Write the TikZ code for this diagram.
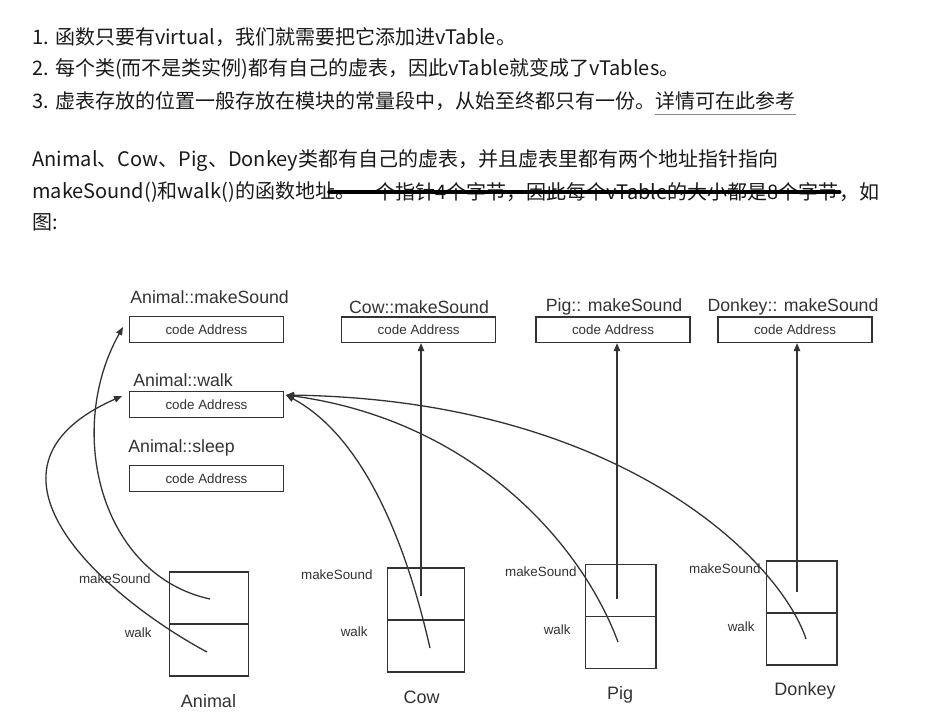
\documentclass[tikz,border=0pt]{standalone}
\usepackage{fontspec}
\usepackage{tikz}
\usetikzlibrary{arrows.meta,positioning}
\newfontfamily\cjkfont{Noto Sans CJK SC}
\newfontfamily\figfont{Liberation Sans}
\definecolor{txtBlack}{HTML}{1A1A1A}
\definecolor{figGray}{HTML}{333333}
\definecolor{linkGray}{HTML}{8A8A8A}

\begin{document}
\begin{tikzpicture}[x=0.5pt, y=-0.5pt, >={Triangle[length=4pt,width=3.2pt]},
  para/.style={anchor=west, inner sep=0pt, text=txtBlack, font=\cjkfont\fontsize{10}{12}\selectfont},
  slot/.style={draw=figGray, line width=0.7pt, minimum width=77pt, minimum height=12.75pt, inner sep=0pt, font=\figfont\fontsize{6.7}{8}\selectfont, text=figGray},
  cell/.style={draw=figGray, line width=0.7pt, minimum height=26pt, inner sep=0pt, outer sep=0pt},
  fname/.style={inner sep=0pt, font=\figfont\fontsize{8.85}{10}\selectfont, text=figGray},
  fieldlbl/.style={inner sep=0pt, anchor=east, font=\figfont\fontsize{6.7}{8}\selectfont, text=figGray},
  cls/.style={inner sep=0pt, font=\figfont\fontsize{9}{11}\selectfont, text=figGray},
  ptr/.style={figGray, line width=0.65pt}]
\useasboundingbox[fill=white] (0,0) rectangle (951,725);

% text above the figure
\node[para] (l1) at (32,37) {1. 函数只要有virtual，我们就需要把它添加进vTable。};
\node[para] (l2) at (32,69) {2. 每个类(而不是类实例)都有自己的虚表，因此vTable就变成了vTables。};
\node[para] (l3) at (32,101) {3. 虚表存放的位置一般存放在模块的常量段中，从始至终都只有一份。};
\node[para, right=0pt of l3] (ref) {详情可在此参考};
\draw[linkGray, line width=0.6pt] ([yshift=-2pt]ref.south west) -- ([yshift=-2pt]ref.south east);
\node[para] (l4) at (32,161) {Animal、Cow、Pig、Donkey类都有自己的虚表，并且虚表里都有两个地址指针指向};
\node[para] (l5) at (32,192) {makeSound()和walk()的函数地址。};
\node[para, right=0pt of l5] (del) {一个指针4个字节，因此每个vTable的大小都是8个字节};
\node[para, right=0pt of del] (l5b) {，如};
\node[para] (l6) at (32,222) {图:};
\draw[black, line width=2.3pt, line cap=round] ([xshift=-13pt]del.west) -- (del.east);

% function slots
\node[fname, anchor=west] at (130,297) {Animal::makeSound};
\node[slot] (ams) at (206.5,329.5) {code Address};
\node[fname, anchor=west] at (133,380) {Animal::walk};
\node[slot] (awk) at (206.5,404.5) {code Address};
\node[fname, anchor=west] at (128,448) {Animal::sleep};
\node[slot] (asl) at (206.5,478.5) {code Address};
\node[fname] at (419,307) {Cow::makeSound};
\node[slot] (cms) at (418.7,329.7) {code Address};
\node[fname] at (614,307) {Pig:: makeSound};
\node[slot] (pms) at (613,329.7) {code Address};
\node[fname] at (793,307) {Donkey:: makeSound};
\node[slot] (dms) at (795,329.7) {code Address};

% vtables
\node[cell, minimum width=39.7pt] (aS) at (209,598) {};
\node[cell, minimum width=39.7pt, below=0pt of aS] (aW) {};
\node[fieldlbl] at (151,579) {makeSound};
\node[fieldlbl] at (152,633) {walk};
\node[cls] at (208.5,701) {Animal};

\node[cell, minimum width=38.7pt] (cS) at (426,594) {};
\node[cell, minimum width=38.7pt, below=0pt of cS] (cW) {};
\node[fieldlbl] at (373,575) {makeSound};
\node[fieldlbl] at (368,632) {walk};
\node[cls] at (421.7,697) {Cow};

\node[cell, minimum width=35.4pt] (pS) at (620.7,590.3) {};
\node[cell, minimum width=35.4pt, below=0pt of pS] (pW) {};
\node[fieldlbl] at (577,572) {makeSound};
\node[fieldlbl] at (571,630) {walk};
\node[cls] at (620,695) {Pig};

\node[cell, minimum width=35.4pt] (dS) at (801.7,587) {};
\node[cell, minimum width=35.4pt, below=0pt of dS] (dW) {};
\node[fieldlbl] at (761,569) {makeSound};
\node[fieldlbl] at (755,627) {walk};
\node[cls] at (805,691) {Donkey};

% pointer ends
\coordinate (aSp) at (210,599);
\coordinate (aWp) at (207,652);
\coordinate (cSp) at (421,596);
\coordinate (cWp) at (430,648);
\coordinate (pSp) at (617,599);
\coordinate (pWp) at (618,642);
\coordinate (dSp) at (797,592);
\coordinate (dWp) at (806,639);
\coordinate (amsIn) at (123,327);
\coordinate (awkIn) at (122,396);
\coordinate (awkOut) at (286,395);

% pointers
\draw[ptr, ->] (aSp) .. controls (100,575) and (65,430) .. (amsIn);
\draw[ptr, ->] (aWp) .. controls (110,600) and (-45,470) .. (awkIn);
\draw[ptr, ->] (cSp) -- (cSp |- cms.south);
\draw[ptr, ->] (pSp) -- (pSp |- pms.south);
\draw[ptr, ->] (dSp) -- (dSp |- dms.south);
\draw[ptr, ->] (cWp) .. controls (410,560) and (370,440) .. (awkOut);
\draw[ptr, ->] (pWp) .. controls (580,540) and (470,420) .. (awkOut);
\draw[ptr, ->] (dWp) .. controls (780,560) and (620,400) .. (awkOut);
\end{tikzpicture}
\end{document}
